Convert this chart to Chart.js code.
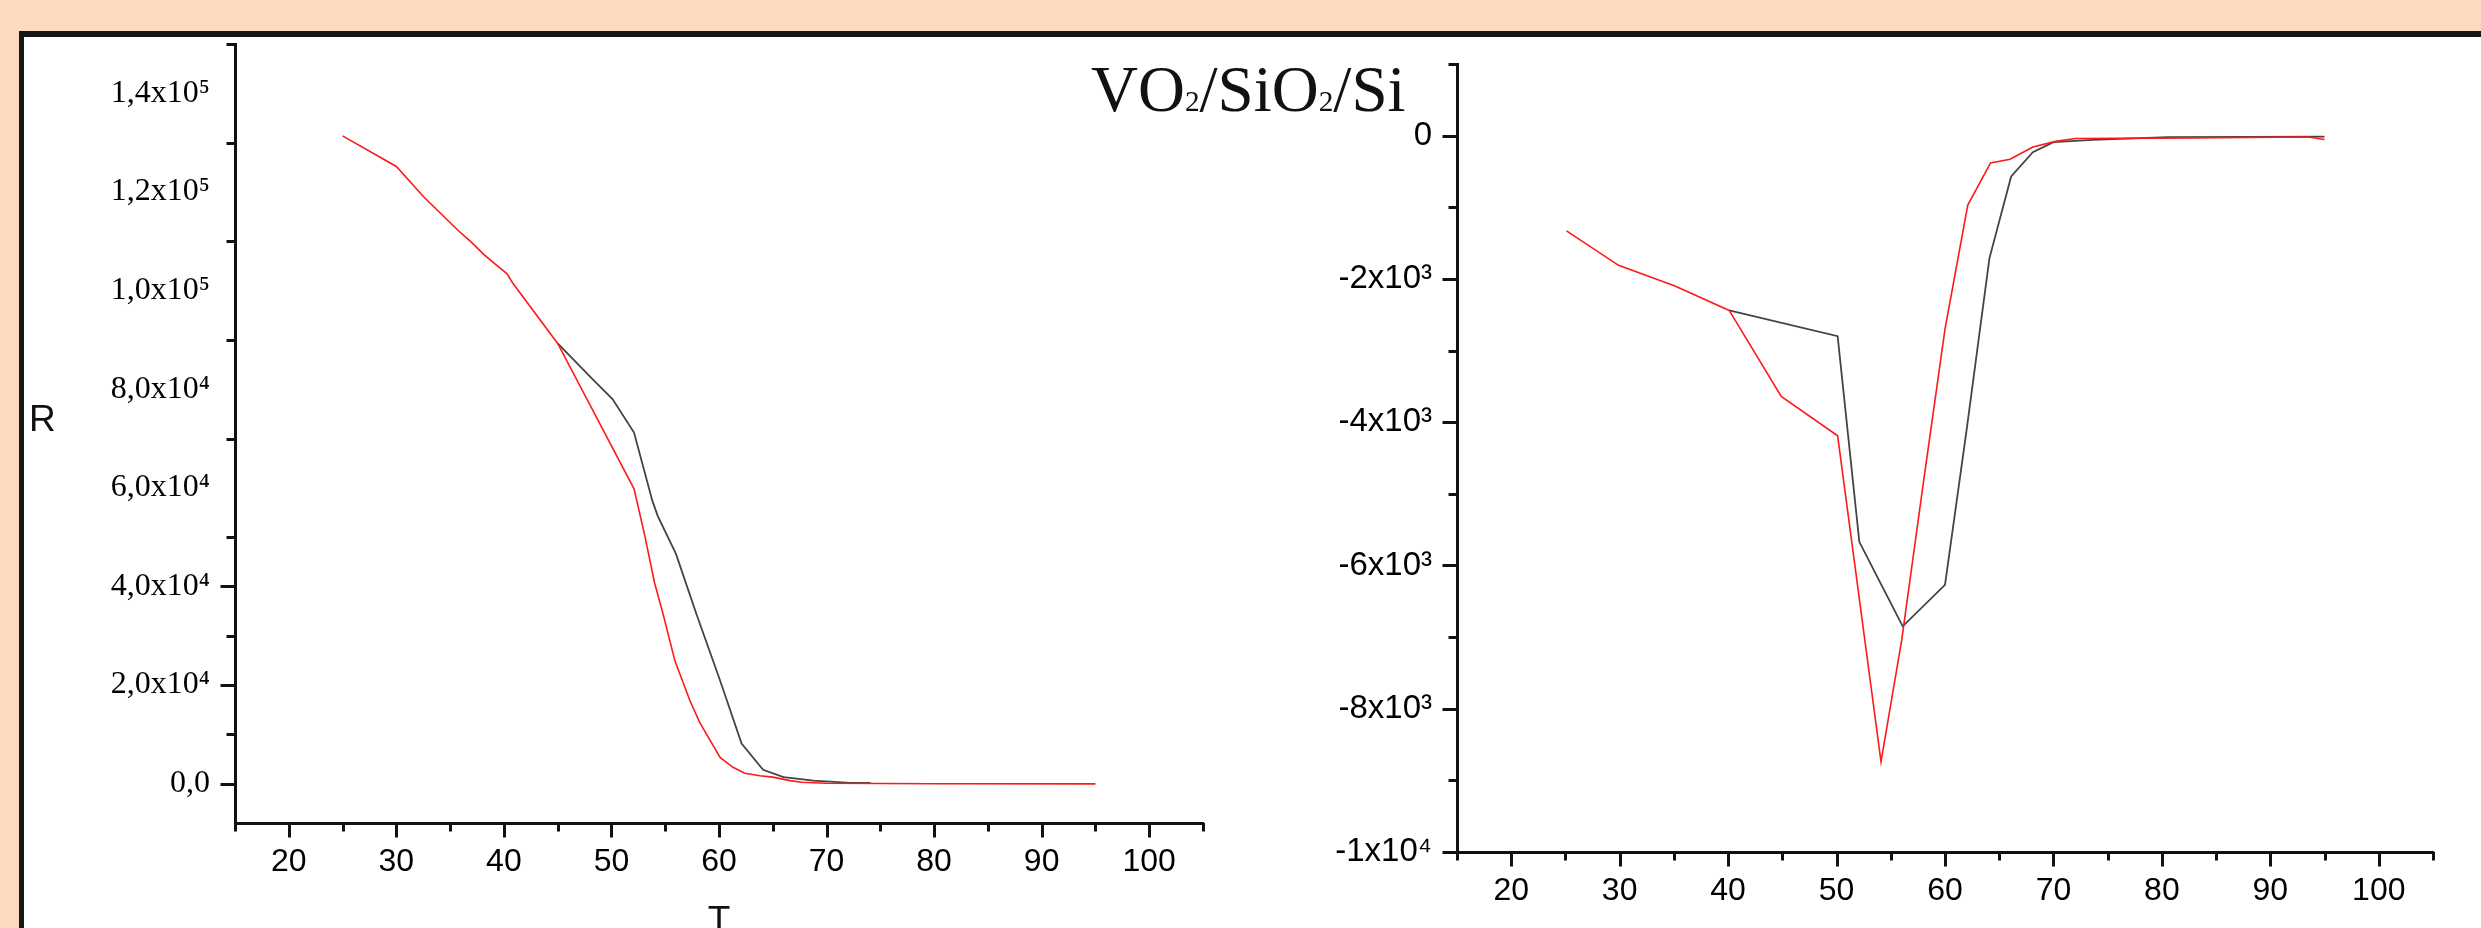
<!DOCTYPE html>
<html>
<head>
<meta charset="utf-8">
<script src="https://cdn.jsdelivr.net/npm/chart.js@4.4.1/dist/chart.umd.min.js"></script>
<style>
  html, body { margin: 0; padding: 0; width: 2481px; height: 928px; overflow: hidden; background: #fdd9bf; }
  #frame { position: absolute; left: 19px; top: 31px; width: 2500px; height: 1000px; background: #fff;
           border-left: 5px solid #171717; border-top: 6px solid #171717; }
  canvas { position: absolute; top: 0; }
  #cL { left: 0; }
  #cR { left: 1240px; }
  .lbl { position: absolute; line-height: 1; color: #111; white-space: nowrap; }
  #title { left: 1091px; top: 57px; font-size: 65px; font-family: 'Liberation Serif', 'Times New Roman', serif; }
  #title span { font-size: 0.45em; }
  #rlab { left: 29px; top: 400px; font-size: 37px; font-family: 'Liberation Sans', Arial, sans-serif; }
</style>
</head>
<body>
<div id="frame"></div>
<canvas id="cL" width="1240" height="960"></canvas>
<canvas id="cR" width="1241" height="928"></canvas>
<div class="lbl" id="title">VO<span>2</span>/SiO<span>2</span>/Si</div>
<div class="lbl" id="rlab">R</div>
<script>
// R(T) : courbe rouge et courbe noire
const leftTRed = [25, 30, 32.6, 35.8, 36.9, 38.1, 39.2, 40.3, 40.8, 45, 52.1, 53.1, 54, 54.8, 55.9, 57.3, 58.2, 60.1, 61.3, 62.4, 63.8, 65, 66.6, 67.7, 70, 80, 95];
const leftRRed = [131400, 125200, 118900, 112100, 110000, 107400, 105400, 103400, 101600, 89300, 59800, 50300, 40800, 34400, 24900, 16800, 12400, 5300, 3300, 2100, 1600, 1300, 600, 270, 50, -50, -60];
const leftTBlack = [45, 48.4, 50.1, 52.1, 53.8, 54.3, 56, 57.9, 60.1, 62.1, 64.1, 66, 68.8, 72.2, 74.1];
const leftRBlack = [89300, 81700, 78000, 71200, 57400, 54300, 46600, 34400, 20900, 8100, 2800, 1300, 600, 150, 150];

// dR/dT
const rightTRed = [25.1, 29.9, 35.1, 40.1, 44.9, 50.1, 54.1, 56, 58, 60, 62.1, 64.2, 66, 68.1, 70.2, 72, 80, 93.5, 95];
const rightVRed = [-1330, -1810, -2100, -2440, -3640, -4190, -8740, -7050, -4850, -2700, -970, -380, -330, -160, -80, -40, -35, -20, -55];
const rightTBlack = [40.1, 50.1, 52.1, 54.3, 56.1, 60, 62, 64.1, 66.1, 68.1, 70, 73.6, 80.5, 95];
const rightVBlack = [-2440, -2800, -5670, -6320, -6850, -6270, -4100, -1710, -570, -230, -90, -60, -20, -15];

// graduations
const xTicks = [20, 30, 40, 50, 60, 70, 80, 90, 100];
const xMinor = [15, 25, 35, 45, 55, 65, 75, 85, 95, 105];
const leftYTicks = [0, 20000, 40000, 60000, 80000, 100000, 120000, 140000];
const leftYLabels = ['0,0', '2,0x10⁴', '4,0x10⁴', '6,0x10⁴', '8,0x10⁴', '1,0x10⁵', '1,2x10⁵', '1,4x10⁵'];
const leftYMajor = [0, 20000, 40000];
const leftYMinor = [10000, 30000, 50000, 70000, 90000, 110000, 130000, 150000];
const rightYTicks = [0, -2000, -4000, -6000, -8000, -10000];
const rightYLabels = ['0', '-2x10³', '-4x10³', '-6x10³', '-8x10³', '-1x10⁴'];
const rightYMinor = [1000, -1000, -3000, -5000, -7000, -9000];

const sans = "'Liberation Sans', Arial, sans-serif";
const serif = "'Liberation Serif', 'Times New Roman', serif";

function toPoints(xs, ys) {
  return xs.map((t, i) => ({ x: t, y: ys[i] }));
}

// petits traits de graduation dessines a la main (majeurs longs, mineurs courts)
function tickMarks(xMaj, xMin, yMaj, yMin) {
  return {
    id: 'tickMarks',
    afterDraw(chart) {
      const { ctx, scales: { x, y } } = chart;
      ctx.save();
      ctx.strokeStyle = '#111';
      ctx.lineWidth = 3;
      ctx.beginPath();
      const down = (vals, len) => vals.forEach(v => {
        const px = Math.round(x.getPixelForValue(v)) + 0.5;
        ctx.moveTo(px, x.top);
        ctx.lineTo(px, x.top + 1.5 + len);
      });
      const left = (vals, len) => vals.forEach(v => {
        const py = Math.round(y.getPixelForValue(v)) + 0.5;
        ctx.moveTo(y.right, py);
        ctx.lineTo(y.right - 1.5 - len, py);
      });
      down(xMaj, 13);
      down(xMin, 7);
      left(yMaj, 13);
      left(yMin, 7);
      ctx.stroke();
      ctx.restore();
    }
  };
}

function makeChart(id, opts) {
  return new Chart(document.getElementById(id), {
    type: 'line',
    data: {
      datasets: [
        { data: opts.red, borderColor: 'rgb(255,25,25)', borderWidth: 1.6 },
        { data: opts.black, borderColor: '#444', borderWidth: 1.8 }
      ]
    },
    options: {
      responsive: false,
      animation: false,
      devicePixelRatio: 1,
      parsing: false,
      elements: { point: { radius: 0 }, line: { tension: 0 } },
      layout: { padding: opts.padding },
      plugins: { legend: { display: false }, tooltip: { enabled: false } },
      scales: {
        x: {
          type: 'linear',
          min: 15,
          max: 105,
          afterFit: s => { s.height = opts.xHeight; },
          afterBuildTicks: s => { s.ticks = xTicks.map(v => ({ value: v })); },
          grid: { display: false, drawTicks: false },
          border: { display: true, color: '#111', width: 3 },
          ticks: { autoSkip: false, maxRotation: 0, padding: 20, color: '#000',
                   font: { family: sans, size: 32 } },
          title: opts.xTitle
        },
        y: {
          type: 'linear',
          min: opts.yMin,
          max: opts.yMax,
          afterFit: s => { s.width = opts.yWidth; },
          afterBuildTicks: s => { s.ticks = opts.yTicks.map(v => ({ value: v })); },
          grid: { display: false, drawTicks: false },
          border: { display: true, color: '#111', width: 3 },
          ticks: {
            autoSkip: false, padding: 25, color: '#000', font: opts.yFont,
            callback: v => opts.yLabels[opts.yTicks.indexOf(v)]
          }
        }
      }
    },
    plugins: [tickMarks(xTicks, xMinor, opts.yMajor, opts.yMinor)]
  });
}

makeChart('cL', {
  red: toPoints(leftTRed, leftRRed),
  black: toPoints(leftTBlack, leftRBlack),
  padding: { left: 0, top: 43, right: 37, bottom: 0 },
  xHeight: 137,
  yWidth: 235,
  yMin: -8000,
  yMax: 150000,
  yTicks: leftYTicks,
  yLabels: leftYLabels,
  yMajor: leftYMajor,
  yMinor: leftYMinor,
  yFont: { family: serif, size: 32 },
  xTitle: { display: true, text: 'T', color: '#111', font: { family: sans, size: 37 },
            padding: { top: 0, bottom: 16 } }
});

makeChart('cR', {
  red: toPoints(rightTRed, rightVRed),
  black: toPoints(rightTBlack, rightVBlack),
  padding: { left: 0, top: 64, right: 48, bottom: 0 },
  xHeight: 76,
  yWidth: 217,
  yMin: -10000,
  yMax: 1000,
  yTicks: rightYTicks,
  yLabels: rightYLabels,
  yMajor: rightYTicks,
  yMinor: rightYMinor,
  yFont: { family: sans, size: 33 },
  xTitle: { display: false }
});
</script>
</body>
</html>
